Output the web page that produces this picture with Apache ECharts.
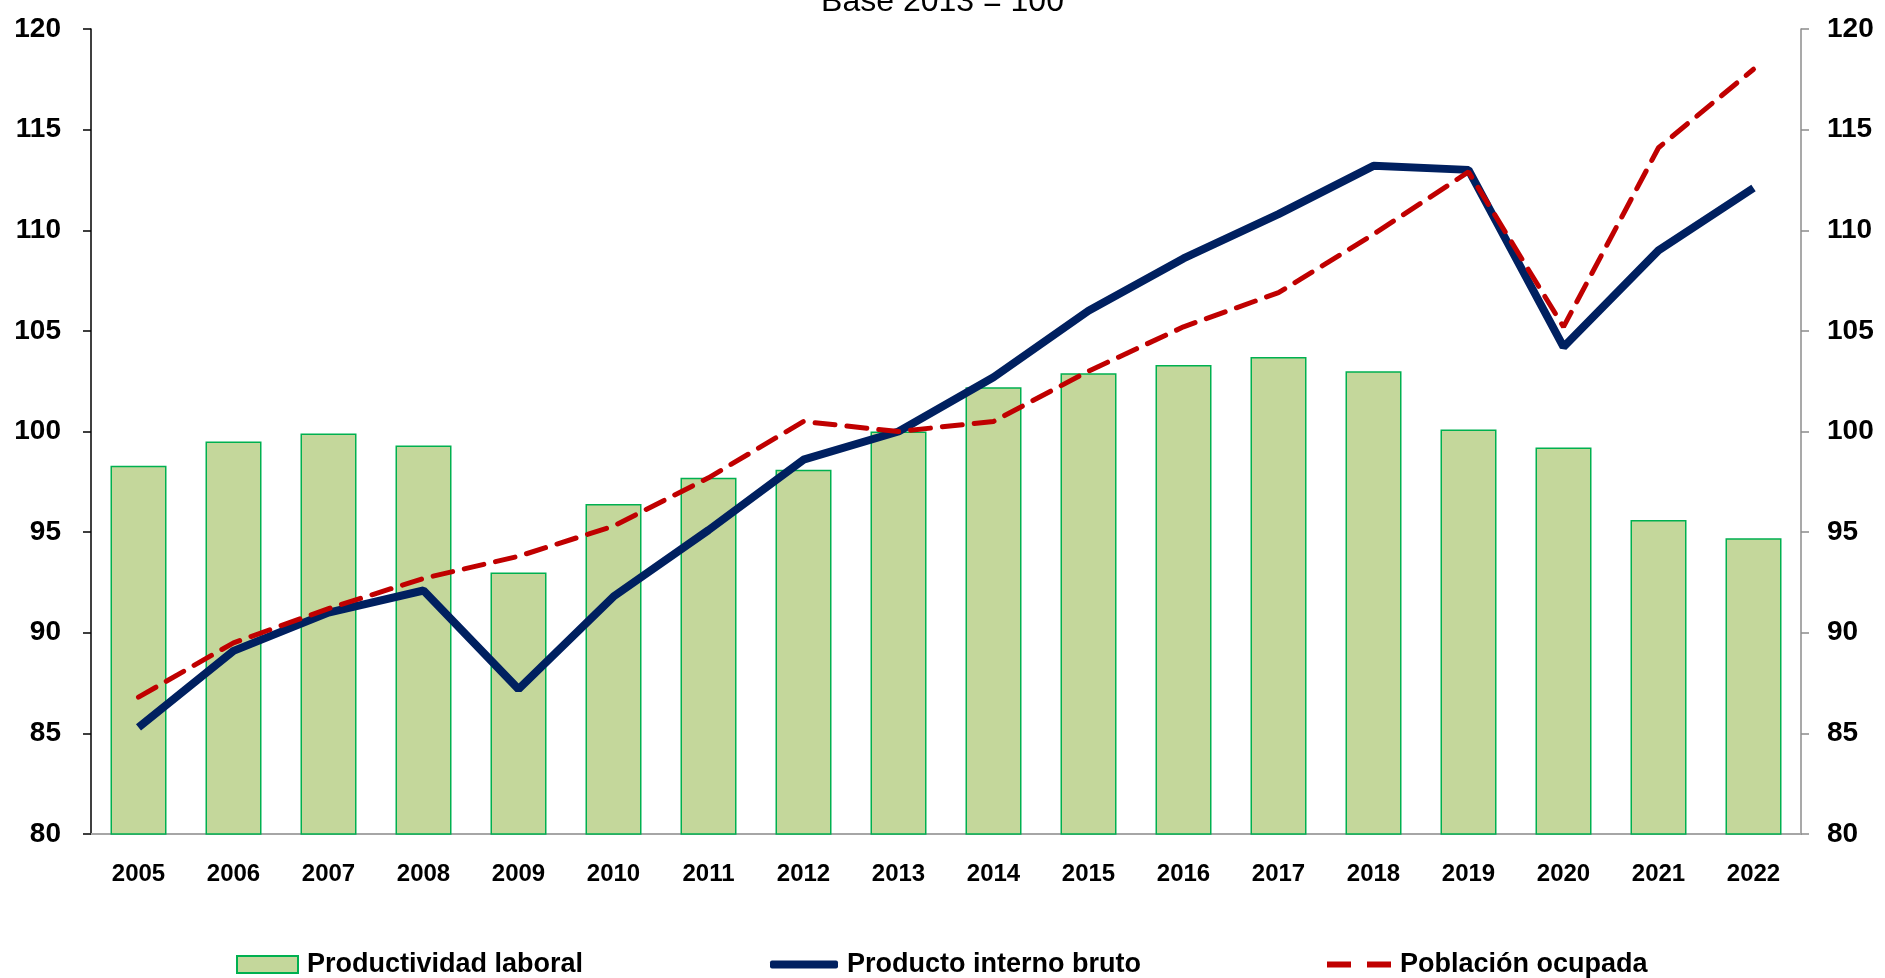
<!DOCTYPE html>
<html>
<head>
<meta charset="utf-8">
<script src="https://cdn.jsdelivr.net/npm/echarts@6/dist/echarts.min.js"></script>
<style>
  html, body { margin: 0; padding: 0; background: #fff; }
  #main { width: 1885px; height: 978px; }
</style>
</head>
<body>
<div id="main"></div>
<script>
// años
var years = ['2005', '2006', '2007', '2008', '2009', '2010', '2011', '2012', '2013',
             '2014', '2015', '2016', '2017', '2018', '2019', '2020', '2021', '2022'];
// Productividad laboral (barras)
var productividad = [98.3, 99.5, 99.9, 99.3, 93.0, 96.4, 97.7, 98.1, 100.0,
                     102.2, 102.9, 103.3, 103.7, 103.0, 100.1, 99.2, 95.6, 94.7];
// Producto interno bruto
var pib = [85.3, 89.1, 91.0, 92.1, 87.2, 91.8, 95.1, 98.6, 100.0,
           102.7, 106.0, 108.6, 110.8, 113.2, 113.0, 104.2, 109.0, 112.1];
// Población ocupada
var poblacion = [86.8, 89.5, 91.2, 92.7, 93.8, 95.3, 97.7, 100.5, 100.0,
                 100.5, 103.0, 105.2, 106.9, 109.8, 112.9, 105.2, 114.1, 118.0];

var chart = echarts.init(document.getElementById('main'));

var font = "'Liberation Sans', Arial, sans-serif";
var legendText = { fontFamily: font, fontWeight: 'bold', fontSize: 27, color: '#000', padding: [0, 0, 0, 4] };

chart.setOption({
    animation: false,
    title: {
        text: 'Base 2013 = 100',
        left: 'center',
        top: -19,
        textStyle: { fontFamily: font, fontWeight: 'normal', fontSize: 32, color: '#000' }
    },
    legend: [
        {
            data: [{ name: 'Productividad laboral', icon: 'rect' }],
            left: 231, top: 946, itemWidth: 61, itemHeight: 17, textStyle: legendText
        },
        {
            data: [{ name: 'Producto interno bruto', icon: 'roundRect' }],
            left: 765, top: 946, itemWidth: 68, itemHeight: 8, textStyle: legendText
        },
        {
            data: [{ name: 'Población ocupada', icon: 'path://M0,0H24V6H0Z M40,0H64V6H40Z' }],
            left: 1322, top: 946, itemWidth: 64, itemHeight: 6, textStyle: legendText
        }
    ],
    grid: { left: 91, right: 84, top: 29, bottom: 144 },
    xAxis: {
        type: 'category',
        data: years,
        axisTick: { show: false },
        axisLine: { lineStyle: { color: '#a6a6a6', width: 2 } },
        axisLabel: { margin: 28, fontFamily: font, fontWeight: 'bold', fontSize: 24, color: '#000' }
    },
    yAxis: [
        {
            type: 'value', min: 80, max: 120, interval: 5, position: 'left',
            splitLine: { show: false },
            axisLine: { show: true, lineStyle: { color: '#000', width: 1.5 } },
            axisTick: { show: true, length: 8, lineStyle: { color: '#000', width: 1.5 } },
            axisLabel: { margin: 30, fontFamily: font, fontWeight: 'bold', fontSize: 28, color: '#000' }
        },
        {
            type: 'value', min: 80, max: 120, interval: 5, position: 'right',
            splitLine: { show: false },
            axisLine: { show: true, lineStyle: { color: '#8c8c8c', width: 1.5 } },
            axisTick: { show: true, length: 8, lineStyle: { color: '#8c8c8c', width: 1.5 } },
            axisLabel: { margin: 26, fontFamily: font, fontWeight: 'bold', fontSize: 28, color: '#000' }
        }
    ],
    series: [
        {
            name: 'Productividad laboral',
            type: 'bar',
            data: productividad,
            barWidth: 56,
            itemStyle: { color: '#c4d79b', borderColor: '#00b050', borderWidth: 1.5 }
        },
        {
            name: 'Producto interno bruto',
            type: 'line',
            data: pib,
            symbol: 'none',
            lineStyle: { color: '#002060', width: 8 },
            itemStyle: { color: '#002060' }
        },
        {
            name: 'Población ocupada',
            type: 'line',
            data: poblacion,
            symbol: 'none',
            lineStyle: { color: '#c00000', width: 5, type: [20, 12], cap: 'round' },
            itemStyle: { color: '#c00000' }
        }
    ]
});
</script>
</body>
</html>
